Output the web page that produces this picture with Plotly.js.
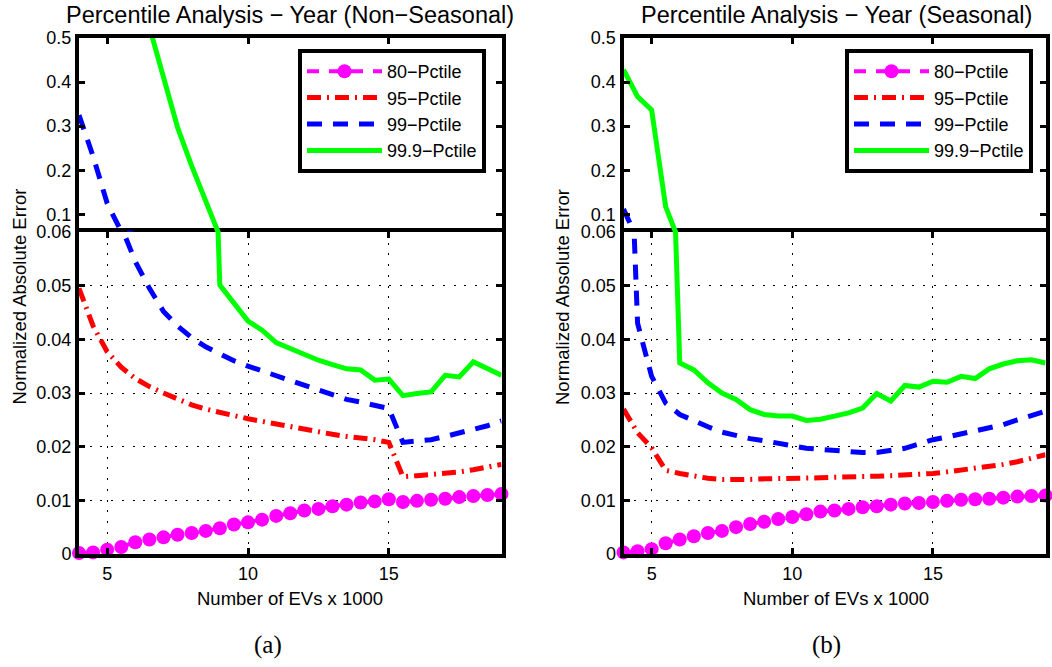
<!DOCTYPE html>
<html>
<head>
<meta charset="utf-8">
<script src="https://cdn.plot.ly/plotly-3.0.1.min.js"></script>
<style>html,body{margin:0;padding:0;background:#fff;}#chart{width:1052px;height:667px;}</style>
</head>
<body>
<div id="chart"></div>
<script>
// ---------------- data ----------------
const evs = [4,4.5,5,5.5,6,6.5,7,7.5,8,8.5,9,9.5,10,10.5,11,11.5,12,12.5,13,13.5,14,14.5,15,15.5,16,16.5,17,17.5,18,18.5,19];
const seriesNames = ['80\u2212Pctile','95\u2212Pctile','99\u2212Pctile','99.9\u2212Pctile'];

// (a) Non-Seasonal
const p80NonSeasonal  = [0.0002,0.0003,0.0008,0.0013,0.0022,0.0027,0.0031,0.0036,0.0039,0.0043,0.0048,0.0055,0.0059,0.0064,0.0071,0.0076,0.0081,0.0084,0.0089,0.0092,0.0096,0.0098,0.0102,0.0097,0.0099,0.0101,0.0103,0.0106,0.0108,0.0110,0.0112];
const p95NonSeasonal  = [0.0495,0.0425,0.0377,0.0348,0.0327,0.0312,0.0300,0.0288,0.0278,0.0270,0.0263,0.0258,0.0252,0.0247,0.0241,0.0236,0.0231,0.0227,0.0223,0.0219,0.0217,0.0213,0.0208,0.0144,0.0146,0.0148,0.0151,0.0153,0.0157,0.0162,0.0167];
const p99NonSeasonal  = [0.325,0.232,0.125,0.061,0.0545,0.0495,0.0452,0.0425,0.0403,0.0386,0.0372,0.0360,0.0350,0.0341,0.0333,0.0325,0.0315,0.0305,0.0296,0.0288,0.0283,0.0277,0.0271,0.0208,0.0211,0.0213,0.0219,0.0225,0.0231,0.0239,0.0248];
const p999NonSeasonal = [null,null,null,null,null,0.525,0.410,0.297,0.210,0.130,0.0501,0.0468,0.0434,0.0417,0.0394,0.0383,0.0372,0.0361,0.0353,0.0345,0.0343,0.0324,0.0326,0.0295,0.0299,0.0302,0.0333,0.0330,0.0358,0.0346,0.0333];

// (b) Seasonal
const p80Seasonal  = [0.0003,0.0005,0.0009,0.0020,0.0027,0.0033,0.0039,0.0043,0.0050,0.0056,0.0060,0.0065,0.0069,0.0074,0.0079,0.0081,0.0084,0.0087,0.0089,0.0092,0.0094,0.0095,0.0097,0.0099,0.0101,0.0102,0.0103,0.0105,0.0107,0.0108,0.0109];
const p95Seasonal  = [0.0270,0.0226,0.0198,0.0156,0.0150,0.0145,0.0141,0.0139,0.0138,0.0139,0.0140,0.0140,0.0141,0.0142,0.0142,0.0143,0.0143,0.0144,0.0145,0.0146,0.0147,0.0148,0.0150,0.0153,0.0156,0.0159,0.0163,0.0167,0.0172,0.0178,0.0185];
const p99Seasonal  = [0.112,0.043,0.0331,0.0281,0.0260,0.0248,0.0237,0.0227,0.0220,0.0215,0.0211,0.0206,0.0202,0.0197,0.0195,0.0193,0.0190,0.0189,0.0189,0.0192,0.0197,0.0205,0.0213,0.0218,0.0224,0.0228,0.0234,0.0241,0.0250,0.0259,0.0266];
const p999Seasonal = [0.428,0.367,0.337,0.117,0.0356,0.0343,0.0319,0.0300,0.0288,0.0269,0.0260,0.0257,0.0257,0.0249,0.0251,0.0257,0.0263,0.0272,0.0299,0.0285,0.0314,0.0311,0.0322,0.0320,0.0331,0.0327,0.0345,0.0354,0.0360,0.0362,0.0356];

const xTickVals = [5,10,15];
const xTickText = ['5','10','15'];
const yLowTickVals = [0,0.01,0.02,0.03,0.04,0.05,0.06];
const yLowTickText = ['0','0.01','0.02','0.03','0.04','0.05','0.06'];
const yHighTickVals = [0.1,0.2,0.3,0.4,0.5];
const yHighTickText = ['0.1','0.2','0.3','0.4','0.5'];

const panelTitles = ['Percentile Analysis \u2212 Year (Non\u2212Seasonal)','Percentile Analysis \u2212 Year (Seasonal)'];
const xTitle = 'Number of EVs x 1000';
const yTitle = 'Normalized Absolute Error';
const captions = ['(a)','(b)'];

// ---------------- layout helpers ----------------
const W = 1052, H = 667;
const FONT = 'Liberation Sans, Arial, Helvetica, sans-serif';
const px = p => p / W;
const py = p => 1 - p / H;

const xDomL = [px(79), px(501.5)];
const xDomR = [px(623.5), px(1045.5)];
const yDomLow = [py(554), py(232)];
const yDomHigh = [py(232), py(38)];

const styles = [
  {color:'#ff00ff', width:4, dash:'12px,10px', mode:'lines+markers', marker:{symbol:'circle', size:14, color:'#ff00ff'}},
  {color:'#ff0000', width:5, dash:'14px,6px,2px,6px', mode:'lines'},
  {color:'#0000ff', width:5, dash:'15px,11px', mode:'lines'},
  {color:'#00ff00', width:5, dash:'solid', mode:'lines'}
];

function makeTraces(seriesList, xa, yaLow, xaHigh, yaHigh, legendId) {
  const out = [];
  seriesList.forEach((vals, i) => {
    const st = styles[i];
    const base = {
      x: evs, y: vals, mode: st.mode, name: seriesNames[i],
      line: {color: st.color, width: st.width, dash: st.dash},
      connectgaps: false, hoverinfo: 'skip'
    };
    if (st.marker) base.marker = st.marker;
    out.push(Object.assign({}, base, {xaxis: xa, yaxis: yaLow, legend: legendId, showlegend: true, cliponaxis: i !== 0}));
    if (i !== 0) {
      out.push(Object.assign({}, base, {xaxis: xaHigh, yaxis: yaHigh, legend: legendId, showlegend: false}));
    }
  });
  return out;
}

const data = [].concat(
  makeTraces([p80NonSeasonal, p95NonSeasonal, p99NonSeasonal, p999NonSeasonal], 'x', 'y', 'x3', 'y3', 'legend'),
  makeTraces([p80Seasonal, p95Seasonal, p99Seasonal, p999Seasonal], 'x2', 'y2', 'x4', 'y4', 'legend2')
);

const common = {
  showline: true, linecolor: 'black', linewidth: 4,
  ticks: 'inside', ticklen: 6, tickwidth: 3, tickcolor: 'black',
  zeroline: false, fixedrange: true,
  tickfont: {family: FONT, size: 18, color: 'black'}
};
const gridStyle = {showgrid: true, gridcolor: 'black', gridwidth: 1, griddash: '2px,8.7px'};

function lowX(dom, anchor) {
  return Object.assign({}, common, gridStyle, {domain: dom, anchor: anchor, range: [4, 19], mirror: 'ticks',
    tickmode: 'array', tickvals: xTickVals, ticktext: xTickText});
}
function highX(dom, anchor) {
  return Object.assign({}, common, {domain: dom, anchor: anchor, range: [4, 19], side: 'top', mirror: false,
    tickmode: 'array', tickvals: xTickVals, ticktext: xTickText, showticklabels: false, showgrid: false});
}
function lowY(anchor) {
  return Object.assign({}, common, gridStyle, {domain: yDomLow, anchor: anchor, range: [0, 0.06], mirror: 'ticks',
    tickmode: 'array', tickvals: yLowTickVals, ticktext: yLowTickText});
}
function highY(anchor) {
  return Object.assign({}, common, {domain: yDomHigh, anchor: anchor, range: [0.06, 0.5], mirror: 'ticks',
    tickmode: 'array', tickvals: yHighTickVals, ticktext: yHighTickText, showgrid: false});
}

const legendBase = {
  xanchor: 'left', yanchor: 'top', bgcolor: 'white', bordercolor: 'black', borderwidth: 4,
  font: {family: FONT, size: 18, color: 'black'}, itemwidth: 75, tracegroupgap: 0, traceorder: 'normal'
};

const annotations = [];
[[xDomL, 290], [xDomR, 836]].forEach((d, i) => {
  const cx = d[1];
  annotations.push({xref: 'paper', yref: 'paper', x: px(cx), y: py(15), xanchor: 'center', yanchor: 'middle',
    text: panelTitles[i], showarrow: false, font: {family: FONT, size: 23.5, color: 'black'}});
  annotations.push({xref: 'paper', yref: 'paper', x: px(cx), y: py(598), xanchor: 'center', yanchor: 'middle',
    text: xTitle, showarrow: false, font: {family: FONT, size: 18.5, color: 'black'}});
  annotations.push({xref: 'paper', yref: 'paper', x: px(i === 0 ? 18.5 : 562), y: py(297), xanchor: 'center', yanchor: 'middle',
    text: yTitle, textangle: -90, showarrow: false, font: {family: FONT, size: 18.5, color: 'black'}});
  annotations.push({xref: 'paper', yref: 'paper', x: px(i === 0 ? 268 : 826), y: py(645), xanchor: 'center', yanchor: 'middle',
    text: captions[i], showarrow: false, font: {family: 'Liberation Serif, DejaVu Serif, serif', size: 25, color: 'black'}});
});

const layout = {
  width: W, height: H,
  margin: {l: 0, r: 0, t: 0, b: 0, pad: 0},
  paper_bgcolor: 'white', plot_bgcolor: 'white',
  font: {family: FONT, color: 'black'},
  xaxis: lowX(xDomL, 'y'),
  yaxis: lowY('x'),
  xaxis3: highX(xDomL, 'y3'),
  yaxis3: highY('x3'),
  xaxis2: lowX(xDomR, 'y2'),
  yaxis2: lowY('x2'),
  xaxis4: highX(xDomR, 'y4'),
  yaxis4: highY('x4'),
  legend: Object.assign({}, legendBase, {x: px(298), y: py(49)}),
  legend2: Object.assign({}, legendBase, {x: px(845), y: py(49)}),
  annotations: annotations,
  showlegend: true
};

Plotly.newPlot('chart', data, layout, {displayModeBar: false, staticPlot: true});
</script>
</body>
</html>
